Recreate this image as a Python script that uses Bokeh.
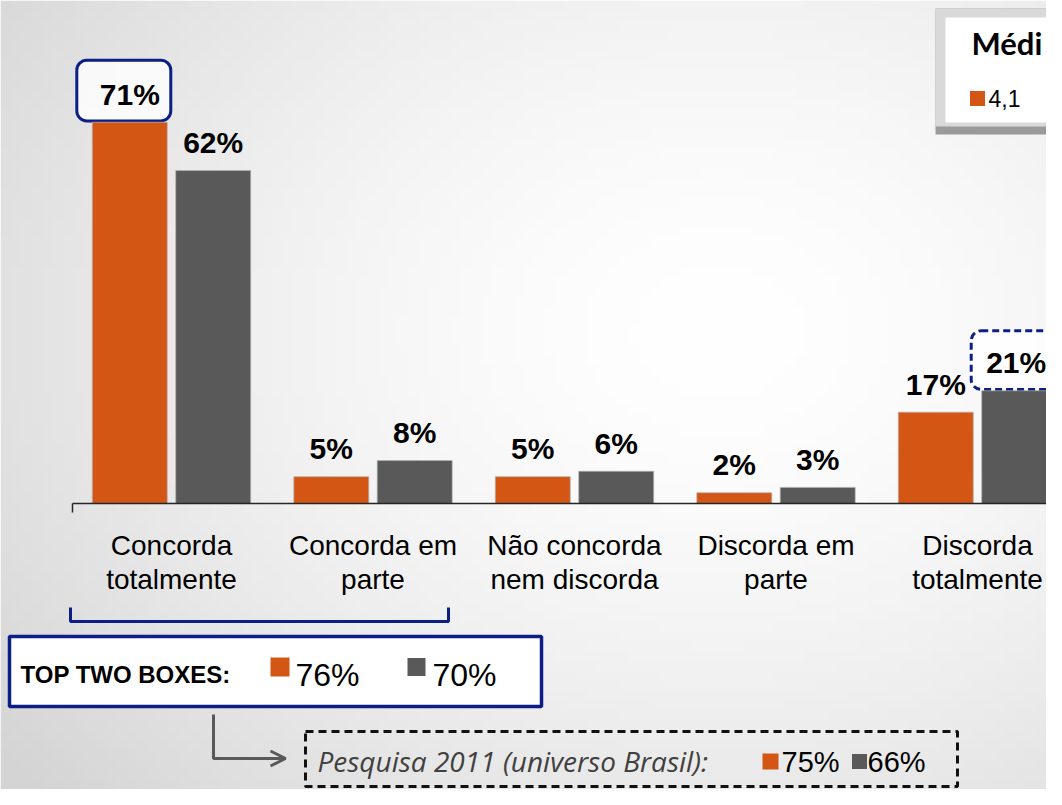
import numpy as np
from bokeh.plotting import figure
from bokeh.models import (Range1d, LinearAxis, FixedTicker, Label, BoxAnnotation,
                          Arrow, OpenHead, ColumnDataSource)
from bokeh.core.properties import value
from bokeh.embed import file_html
from bokeh.resources import INLINE

# ---------------- data ----------------
categories = ["Concorda\ntotalmente", "Concorda em\nparte", "Não concorda\nnem discorda",
              "Discorda em\nparte", "Discorda\ntotalmente"]
serie_atual = [71, 5, 5, 2, 17]      # orange
serie_comp = [62, 8, 6, 3, 21]       # gray
top_two = ["76%", "70%"]
pesquisa_2011 = ["75%", "66%"]
media_label = "Médi"   # word is cut by the slide edge in the source image
media_valor = "4,1"

ORANGE = "#d35614"
GRAY = "#595959"
NAVY = "#0c1f84"

W, H = 1046, 789


# layout pixel -> data helpers (for free-placed annotations only)
def dx(rx):
    return (rx - 171.0) / 201.5


def dy(ry):
    return (503.0 - ry) / 5.37


X0, X1 = dx(0), dx(W)
Y0, Y1 = dy(H), dy(0)

p = figure(width=W, height=H, x_range=Range1d(X0, X1), y_range=Range1d(Y0, Y1),
           x_axis_type=None, y_axis_type=None, toolbar_location=None,
           output_backend="svg", min_border=0, title=None)
p.outline_line_color = None
p.grid.visible = False
p.background_fill_color = "#ffffff"
p.border_fill_color = "#ffffff"

# background slide gradient
ny, nx = 80, 100
yy, xx = np.mgrid[0:ny, 0:nx]
rx = xx / (nx - 1) * W
ry = (ny - 1 - yy) / (ny - 1) * H
d = np.sqrt(((rx - 720) / 900) ** 2 + ((ry - 330) / 700) ** 2)
g = np.clip(255 - 42 * d ** 1.6, 212, 255).astype(np.uint32)
img = (255 << 24) | (g << 16) | (g << 8) | g
p.image_rgba(image=[img.view(np.uint32)], x=X0, y=Y0, dw=X1 - X0, dh=Y1 - Y0, level="image")


def box(**kw):
    base = dict(level="underlay", line_alpha=1.0, line_dash="solid", fill_alpha=1.0)
    base.update(kw)
    p.add_layout(BoxAnnotation(**base))


def lab(x, base, text, size, font="Liberation Sans", style="normal", color="#000000", align="left"):
    # Bokeh renders the 'alphabetic' baseline ~0.4em lower; compensate
    p.add_layout(Label(x=dx(x), y=dy(base - 0.4 * size), text=text, text_font=font,
                       text_font_size=f"{size}px", text_font_style=style,
                       text_color=color, text_align=align, text_baseline="alphabetic"))


# bars
n = len(categories)
xs = np.arange(n, dtype=float)
off = 0.207
bw = 0.372
src = ColumnDataSource(dict(
    xo=xs - off, xg=xs + off, vo=serie_atual, vg=serie_comp,
    lo=[f"{v}%" for v in serie_atual], lg=[f"{v}%" for v in serie_comp],
    xoff_g=[0, 0, 0, 0, -3]))

# highlight boxes around 71% and 21% (drawn beneath labels)
i_max = int(np.argmax(serie_atual))
box(left=xs[i_max] - off - 53 / 201.5, right=xs[i_max] - off + 41 / 201.5,
    bottom=serie_atual[i_max] + 0.25, top=serie_atual[i_max] + 62 / 5.37,
    fill_color="white", fill_alpha=0.8, line_color=NAVY, line_width=3, border_radius=10)
i_last = n - 1
box(left=xs[i_last] + off - 48 / 201.5, right=xs[i_last] + off + 52 / 201.5,
    bottom=serie_comp[i_last] + 0.25, top=serie_comp[i_last] + 60 / 5.37,
    fill_color="white", fill_alpha=0.8, line_color=NAVY, line_width=3,
    line_dash="7 4", border_radius=10)

p.vbar(x="xo", top="vo", bottom=0, width=bw, source=src, fill_color=ORANGE,
       line_color="#b0b0b0", line_alpha=0.7, line_width=1)
p.vbar(x="xg", top="vg", bottom=0, width=bw, source=src, fill_color=GRAY,
       line_color="#b0b0b0", line_alpha=0.7, line_width=1)

# value labels
p.text(x="xo", y="vo", text="lo", source=src, y_offset=-28,
       text_font=value("Liberation Sans"), text_font_size="30px",
       text_font_style="bold", text_color="#000000",
       text_align="center", text_baseline="alphabetic")
p.text(x="xg", y="vg", text="lg", source=src, y_offset=-28, x_offset="xoff_g",
       text_font=value("Liberation Sans"), text_font_size="30px",
       text_font_style="bold", text_color="#000000",
       text_align="center", text_baseline="alphabetic")

# category axis fixed at 0
ax = LinearAxis(fixed_location=0, ticker=FixedTicker(ticks=list(xs)))
ax.major_label_overrides = {float(i): c for i, c in enumerate(categories)}
ax.major_label_overrides.update({int(i): c for i, c in enumerate(categories)})
ax.bounds = (dx(72), X1)
ax.axis_line_color = "#262626"
ax.axis_line_width = 1.5
ax.major_tick_line_color = None
ax.minor_tick_line_color = None
ax.major_label_standoff = 20
ax.major_label_text_font = "Liberation Sans"
ax.major_label_text_font_size = "28px"
ax.major_label_text_color = "#000000"
ax.major_label_text_line_height = 1.1
p.add_layout(ax, "below")
p.segment(x0=[dx(72)], y0=[0], x1=[dx(72)], y1=[dy(512)], line_color="#262626", line_width=1.5)

# bracket under first two categories
p.line(x=[dx(70), dx(70), dx(448), dx(448)], y=[dy(607), dy(621), dy(621), dy(607)],
       line_color=NAVY, line_width=3)

# TOP TWO BOXES panel
box(left=dx(9), right=dx(541), top=dy(636), bottom=dy(706),
    fill_color="white", line_color=NAVY, line_width=3.5)
lab(20, 684, "TOP TWO BOXES:", 24, style="bold")
p.scatter(x=[dx(279.5), dx(416)], y=[dy(666.5), dy(666.5)], marker="square", size=[19, 18],
          fill_color=[ORANGE, GRAY], line_color=None)
lab(295, 687, top_two[0], 32)
lab(432, 687, top_two[1], 32)

# arrow to 2011 box
p.line(x=[dx(213), dx(213), dx(282)], y=[dy(714), dy(758), dy(758)],
       line_color=GRAY, line_width=3)
p.add_layout(Arrow(end=OpenHead(size=15, line_color=GRAY, line_width=3),
                   x_start=dx(260), y_start=dy(758), x_end=dx(285), y_end=dy(758),
                   line_color=GRAY, line_width=3))

# Pesquisa 2011 dashed box
box(left=dx(305), right=dx(957), top=dy(731), bottom=dy(786),
    fill_color=None, fill_alpha=0, line_color="#111111", line_width=3, line_dash="8 5")
lab(317, 772, "Pesquisa  2011 (universo Brasil):", 28, font="Open Sans", style="italic",
    color="#404040")
p.scatter(x=[dx(770), dx(859)], y=[dy(761), dy(761)], marker="square", size=[16, 15],
          fill_color=[ORANGE, GRAY], line_color=None)
lab(781, 773, pesquisa_2011[0], 29)
lab(867, 773, pesquisa_2011[1], 29)

# Média legend box (top right, beveled)
box(left=dx(935), right=dx(1080), top=dy(8), bottom=dy(134), fill_color="#9a9a9a", line_color=None)
box(left=dx(935), right=dx(1080), top=dy(8), bottom=dy(126), fill_color="#d9d9d9", line_color=None)
box(left=dx(945), right=dx(1080), top=dy(17), bottom=dy(122), fill_color="#ffffff", line_color=None)
lab(971, 55, media_label, 31, font="Lato", style="bold")
p.scatter(x=[dx(977)], y=[dy(98)], marker="square", size=15, fill_color=ORANGE, line_color=None)
lab(988, 107, media_valor, 23)

open("out.html", "w").write(file_html(p, INLINE))
